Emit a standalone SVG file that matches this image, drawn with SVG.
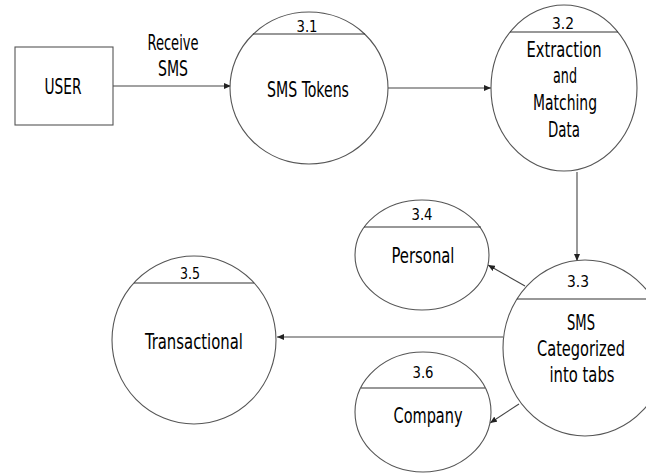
<svg xmlns="http://www.w3.org/2000/svg" width="646" height="475" viewBox="0 0 646 475">
<style>
.shape{fill:#fff;stroke:#555;stroke-width:1.1}
.sep{stroke:#333;stroke-width:1.1}
.conn{fill:none;stroke:#444;stroke-width:1.1}
text{font-family:"DejaVu Sans Condensed","Liberation Sans Narrow","DejaVu Sans",sans-serif;font-stretch:condensed;fill:#000;text-anchor:middle}
.lbl{font-size:21px}
.num{font-size:15.5px}
</style>
<defs>
<marker id="arr" markerWidth="7" markerHeight="6" refX="7" refY="3" orient="auto" markerUnits="userSpaceOnUse">
<path d="M0,0 L7,3 L0,6 Z" fill="#222"/>
</marker>
</defs>
<rect width="646" height="475" fill="#fff"/>
<g id="connectors">
<line class="conn" x1="113" y1="86" x2="231" y2="86" marker-end="url(#arr)"/>
<line class="conn" x1="388" y1="88" x2="491" y2="88" marker-end="url(#arr)"/>
<line class="conn" x1="577" y1="172" x2="577" y2="261" marker-end="url(#arr)"/>
<line class="conn" x1="525" y1="286" x2="488" y2="265" marker-end="url(#arr)"/>
<line class="conn" x1="503" y1="337" x2="277" y2="337" marker-end="url(#arr)"/>
<line class="conn" x1="519" y1="404" x2="490" y2="423" marker-end="url(#arr)"/>
<text class="lbl" x="173" y="50" textLength="51" lengthAdjust="spacingAndGlyphs">Receive</text>
<text class="lbl" x="173" y="76" textLength="30" lengthAdjust="spacingAndGlyphs">SMS</text>
</g>
<g id="user">
<rect class="shape" x="15" y="47" width="98" height="78"/>
<text class="lbl" x="63" y="94" textLength="37" lengthAdjust="spacingAndGlyphs">USER</text>
</g>
<g id="p31">
<ellipse class="shape" cx="309" cy="88" rx="79" ry="76"/>
<line class="sep" x1="253" y1="34" x2="365" y2="34"/>
<text class="num" x="307" y="32" textLength="21" lengthAdjust="spacingAndGlyphs">3.1</text>
<text class="lbl" x="308" y="97" textLength="82" lengthAdjust="spacingAndGlyphs">SMS Tokens</text>
</g>
<g id="p32">
<ellipse class="shape" cx="564" cy="88" rx="73" ry="83"/>
<line class="sep" x1="510" y1="32" x2="618" y2="32"/>
<text class="num" x="563" y="29" textLength="22" lengthAdjust="spacingAndGlyphs">3.2</text>
<text class="lbl" x="564" y="57" textLength="75" lengthAdjust="spacingAndGlyphs">Extraction</text>
<text class="lbl" x="565" y="83" textLength="24" lengthAdjust="spacingAndGlyphs">and</text>
<text class="lbl" x="565" y="110" textLength="64" lengthAdjust="spacingAndGlyphs">Matching</text>
<text class="lbl" x="564" y="137" textLength="32" lengthAdjust="spacingAndGlyphs">Data</text>
</g>
<g id="p33">
<ellipse class="shape" cx="585" cy="348" rx="82" ry="88"/>
<line class="sep" x1="517" y1="299" x2="646" y2="299"/>
<text class="num" x="578" y="287" textLength="22" lengthAdjust="spacingAndGlyphs">3.3</text>
<text class="lbl" x="581" y="330" textLength="28" lengthAdjust="spacingAndGlyphs">SMS</text>
<text class="lbl" x="581" y="356" textLength="88" lengthAdjust="spacingAndGlyphs">Categorized</text>
<text class="lbl" x="582" y="382" textLength="65" lengthAdjust="spacingAndGlyphs">into tabs</text>
</g>
<g id="p34">
<ellipse class="shape" cx="422" cy="255" rx="67" ry="55"/>
<line class="sep" x1="364" y1="227" x2="481" y2="227"/>
<text class="num" x="422" y="220" textLength="21" lengthAdjust="spacingAndGlyphs">3.4</text>
<text class="lbl" x="423" y="263" textLength="63" lengthAdjust="spacingAndGlyphs">Personal</text>
</g>
<g id="p35">
<ellipse class="shape" cx="194" cy="340" rx="82" ry="84"/>
<line class="sep" x1="134" y1="283" x2="254" y2="283"/>
<text class="num" x="190" y="279" textLength="20" lengthAdjust="spacingAndGlyphs">3.5</text>
<text class="lbl" x="194" y="349" textLength="98" lengthAdjust="spacingAndGlyphs">Transactional</text>
</g>
<g id="p36">
<ellipse class="shape" cx="423" cy="412" rx="68" ry="60"/>
<line class="sep" x1="361" y1="388" x2="485" y2="388"/>
<text class="num" x="423" y="378" textLength="21" lengthAdjust="spacingAndGlyphs">3.6</text>
<text class="lbl" x="428" y="423" textLength="69" lengthAdjust="spacingAndGlyphs">Company</text>
</g>
</svg>
